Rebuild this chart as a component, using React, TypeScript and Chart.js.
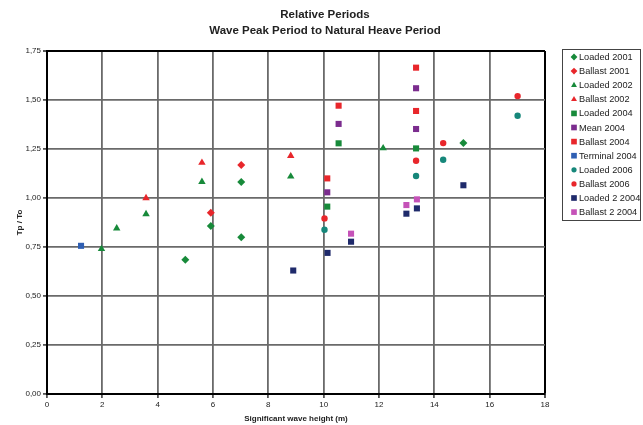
import React, { useEffect, useRef } from "react";
import { Chart, registerables } from "chart.js";

Chart.register(...registerables);

const titleLines = ["Relative Periods", "Wave Peak Period to Natural Heave Period"];
const xTitle = "Significant wave height (m)";
const yTitle = "Tp / To";

const xTicks = [0, 2, 4, 6, 8, 10, 12, 14, 16, 18];
const yTicks = [0, 0.25, 0.5, 0.75, 1.0, 1.25, 1.5, 1.75];

const loaded2001X = [5.0, 5.92, 7.02, 7.02, 15.05];
const loaded2001Y = [0.685, 0.857, 1.082, 0.8, 1.28];
const ballast2001X = [5.92, 7.02];
const ballast2001Y = [0.925, 1.168];
const loaded2002X = [1.97, 2.52, 3.58, 5.6, 8.81, 12.15];
const loaded2002Y = [0.74, 0.845, 0.918, 1.083, 1.11, 1.254];
const ballast2002X = [3.58, 5.6, 8.81];
const ballast2002Y = [1.0, 1.18, 1.215];
const loaded2004X = [10.13, 10.54, 13.34];
const loaded2004Y = [0.956, 1.279, 1.253];
const mean2004X = [10.13, 10.54, 13.34, 13.34];
const mean2004Y = [1.029, 1.378, 1.352, 1.56];
const ballast2004X = [10.13, 10.54, 13.34, 13.34];
const ballast2004Y = [1.1, 1.471, 1.444, 1.665];
const terminal2004X = [1.23];
const terminal2004Y = [0.756];
const loaded2006X = [10.03, 13.34, 14.32, 17.01];
const loaded2006Y = [0.838, 1.112, 1.195, 1.42];
const ballast2006X = [10.03, 13.34, 14.32, 17.01];
const ballast2006Y = [0.896, 1.19, 1.28, 1.52];
const loaded22004X = [8.9, 10.14, 10.99, 12.99, 13.37, 15.05];
const loaded22004Y = [0.63, 0.72, 0.777, 0.92, 0.947, 1.065];
const ballast22004X = [10.99, 12.99, 13.37];
const ballast22004Y = [0.818, 0.964, 0.993];

const seriesLabels = [
  "Loaded 2001", "Ballast 2001", "Loaded 2002", "Ballast 2002", "Loaded 2004", "Mean 2004",
  "Ballast 2004", "Terminal 2004", "Loaded 2006", "Ballast 2006", "Loaded 2 2004", "Ballast 2 2004",
];
const seriesX = [loaded2001X, ballast2001X, loaded2002X, ballast2002X, loaded2004X, mean2004X,
  ballast2004X, terminal2004X, loaded2006X, ballast2006X, loaded22004X, ballast22004X];
const seriesY = [loaded2001Y, ballast2001Y, loaded2002Y, ballast2002Y, loaded2004Y, mean2004Y,
  ballast2004Y, terminal2004Y, loaded2006Y, ballast2006Y, loaded22004Y, ballast22004Y];
const seriesColors = ["#178a3a", "#e8262b", "#178a3a", "#e8262b", "#178a3a", "#7b2c8e",
  "#e8262b", "#2f5fb3", "#16877a", "#e8262b", "#1f2a6b", "#c552b8"];
const seriesStyles = ["rectRot", "rectRot", "triangle", "triangle", "rect", "rect",
  "rect", "rect", "circle", "circle", "rect", "rect"];
const styleRadius: Record<string, number> = { rectRot: 4, triangle: 4.3, rect: 4.3, circle: 3.2 };

function drawMarker(ctx: CanvasRenderingContext2D, style: string, x: number, y: number, r: number, color: string) {
  ctx.save();
  ctx.fillStyle = color;
  ctx.beginPath();
  if (style === "rect") {
    const s = r * Math.SQRT1_2;
    ctx.rect(x - s, y - s, 2 * s, 2 * s);
  } else if (style === "rectRot") {
    ctx.moveTo(x, y - r);
    ctx.lineTo(x + r, y);
    ctx.lineTo(x, y + r);
    ctx.lineTo(x - r, y);
    ctx.closePath();
  } else if (style === "triangle") {
    ctx.moveTo(x, y - r);
    ctx.lineTo(x + r * 0.87, y + r * 0.5);
    ctx.lineTo(x - r * 0.87, y + r * 0.5);
    ctx.closePath();
  } else {
    ctx.arc(x, y, r, 0, Math.PI * 2);
  }
  ctx.fill();
  ctx.restore();
}

const titlePlugin = {
  id: "customTitle",
  afterDraw(chart: any) {
    const ctx = chart.ctx as CanvasRenderingContext2D;
    ctx.save();
    ctx.fillStyle = "#222";
    ctx.font = "bold 11.5px 'Liberation Sans', Arial, sans-serif";
    ctx.textAlign = "center";
    ctx.textBaseline = "middle";
    ctx.fillText(titleLines[0], 325, 15);
    ctx.fillText(titleLines[1], 325, 31);
    ctx.restore();
  },
};

const legendPlugin = {
  id: "customLegend",
  afterDraw(chart: any) {
    const ctx = chart.ctx as CanvasRenderingContext2D;
    ctx.save();
    ctx.strokeStyle = "#444";
    ctx.lineWidth = 1;
    ctx.strokeRect(562.5, 49.5, 78, 171);
    ctx.font = "9.2px 'Liberation Sans', Arial, sans-serif";
    ctx.textAlign = "left";
    ctx.textBaseline = "middle";
    chart.data.datasets.forEach((ds: any, i: number) => {
      const y = 57 + i * 14.1;
      const st = seriesStyles[i];
      const r = st === "circle" ? 2.6 : st === "rect" ? 4 : 3.4;
      drawMarker(ctx, st, 574, y, r, seriesColors[i]);
      ctx.fillStyle = "#222";
      ctx.fillText(ds.label, 579, y + 0.5);
    });
    ctx.restore();
  },
};

export default function App() {
  const ref = useRef<HTMLCanvasElement>(null);
  useEffect(() => {
    if (!ref.current) return;
    const datasets = seriesLabels.map((label, i) => ({
      label,
      data: seriesX[i].map((x, j) => ({ x, y: seriesY[i][j] })),
      pointStyle: seriesStyles[i],
      pointRadius: styleRadius[seriesStyles[i]],
      pointBackgroundColor: seriesColors[i],
      pointBorderColor: seriesColors[i],
      pointBorderWidth: 0,
      showLine: false,
    }));
    const tickFont = { family: "'Liberation Sans', Arial, sans-serif", size: 8 };
    const chart = new Chart(ref.current, {
      type: "scatter",
      data: { datasets },
      options: {
        animation: false,
        responsive: false,
        devicePixelRatio: 1,
        layout: { padding: { top: 51, right: 98, left: 0, bottom: 0 } },
        plugins: { legend: { display: false }, title: { display: false }, tooltip: { enabled: false } },
        scales: {
          x: {
            type: "linear",
            min: 0,
            max: 18,
            afterBuildTicks: (s: any) => { s.ticks = xTicks.map((v) => ({ value: v })); },
            afterFit: (s: any) => { s.height = 31; },
            ticks: { font: tickFont, color: "#222", padding: 2, callback: (v: any) => String(v) },
            grid: {
              color: (c: any) => (c.tick && c.tick.value === 18 ? "#000" : "#6a6a6a"),
              lineWidth: (c: any) => (c.tick && c.tick.value === 18 ? 2 : 1.8),
              tickLength: 4,
              tickColor: "#555",
            },
            border: { display: true, color: "#000", width: 2 },
            title: { display: true, text: xTitle, font: { ...tickFont, weight: "bold" }, color: "#222", padding: { top: 0, bottom: 1 } },
          },
          y: {
            type: "linear",
            min: 0,
            max: 1.75,
            afterBuildTicks: (s: any) => { s.ticks = yTicks.map((v) => ({ value: v })); },
            afterFit: (s: any) => { s.width = 47; },
            ticks: { font: tickFont, color: "#222", padding: 2, callback: (v: any) => Number(v).toFixed(2).replace(".", ",") },
            grid: {
              color: (c: any) => (c.tick && c.tick.value === 1.75 ? "#000" : "#6a6a6a"),
              lineWidth: (c: any) => (c.tick && c.tick.value === 1.75 ? 2 : 1.8),
              tickLength: 4,
              tickColor: "#555",
            },
            border: { display: true, color: "#000", width: 2 },
            title: { display: true, text: yTitle, font: { ...tickFont, weight: "bold" }, color: "#222", padding: { top: 15, bottom: 0 } },
          },
        },
      } as any,
      plugins: [titlePlugin, legendPlugin],
    });
    return () => chart.destroy();
  }, []);
  return (
    <div style={{ position: "absolute", left: 0, top: 0, width: 643, height: 425, background: "#fff" }}>
      <canvas ref={ref} width={643} height={425} />
    </div>
  );
}
